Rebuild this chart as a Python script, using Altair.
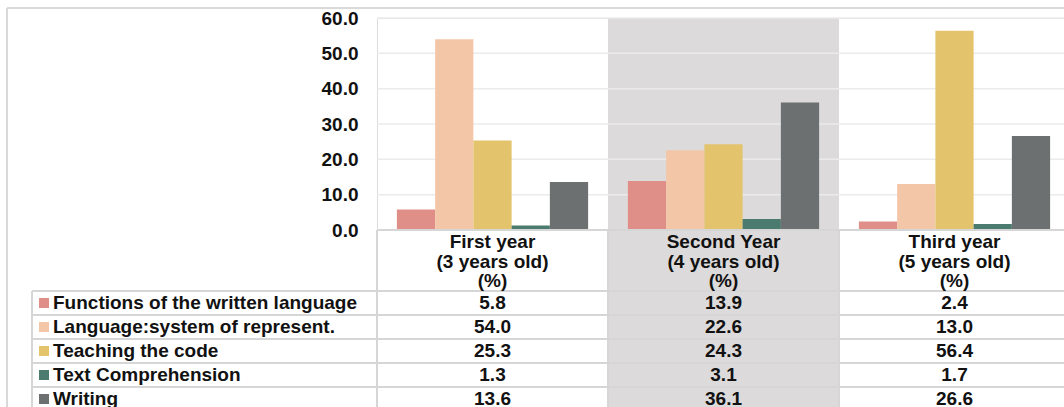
import altair as alt
import pandas as pd

# ---- data -------------------------------------------------------------
categories = ["First year", "Second Year", "Third year"]
ages = ["3 years old", "4 years old", "5 years old"]
series = [
    "Functions of the written language",
    "Language:system of represent.",
    "Teaching the code",
    "Text Comprehension",
    "Writing",
]
functions_vals = [5.8, 13.9, 2.4]
language_vals = [54.0, 22.6, 13.0]
teaching_vals = [25.3, 24.3, 56.4]
comprehension_vals = [1.3, 3.1, 1.7]
writing_vals = [13.6, 36.1, 26.6]
y_ticks = [0, 10, 20, 30, 40, 50, 60]
shaded = ["Second Year"]

colors = ["#e08f88", "#f3c6a7", "#e3c46d", "#4b7a6e", "#6d7070"]

# ---- tables -----------------------------------------------------------
series_values = [functions_vals, language_vals, teaching_vals,
                 comprehension_vals, writing_vals]
rows = []
for s, vals in zip(series, series_values):
    for c, v in zip(categories, vals):
        rows.append({"category": c, "series": s, "value": v, "label": f"{v:.1f}"})
df = pd.DataFrame(rows)

header_df = pd.DataFrame({
    "category": categories,
    "header": [f"{c}\n({a})\n(%)" for c, a in zip(categories, ages)],
})
series_df = pd.DataFrame({"series": series})
grid_df = pd.DataFrame({"g": [t for t in y_ticks if t > 0]})
shade_df = pd.DataFrame({"category": shaded})
cat_df = pd.DataFrame({"category": categories})

# ---- layout -----------------------------------------------------------
W, H = 687, 389          # plot area (bars + data table below)
CAT_W = 231              # width of one category column
BAR_H = 212              # height of the value axis part
ROW_TOP, ROW_H = 273, 24 # data table rows
LEG_LEFT = -345          # left edge of the row-label column

FONT = "Liberation Sans"
FS = 19
INK = "#111111"
LINE = "#d6d6d6"

xscale = alt.Scale(domain=categories, range=[0, CAT_W * 3],
                   paddingInner=0, paddingOuter=0)
yscale = alt.Scale(domain=[0, 60], range=[BAR_H, 0], nice=False, zero=True)
rowscale = alt.Scale(domain=series, range=[ROW_TOP, ROW_TOP + ROW_H * len(series)],
                     paddingInner=0, paddingOuter=0)
cscale = alt.Scale(domain=series, range=colors)

X = lambda **kw: alt.X("category:N", scale=xscale, axis=None, **kw)
ROW = lambda **kw: alt.Y("series:N", scale=rowscale, axis=None, **kw)

band = alt.Chart(shade_df).mark_rect(color="#dcdada").encode(x=X())

grid = alt.Chart(grid_df).mark_rule(color="#ebebeb", strokeWidth=1.5).encode(
    y=alt.Y("g:Q", scale=yscale, axis=None)
)

bars = alt.Chart(df).mark_bar().encode(
    x=X(),
    xOffset=alt.XOffset("series:N", sort=series,
                        scale=alt.Scale(domain=series, paddingInner=0, paddingOuter=0.52)),
    y=alt.Y("value:Q", scale=yscale,
            axis=alt.Axis(values=y_ticks, format=".1f", domain=False, ticks=False,
                          grid=False, labelPadding=19, labelFont=FONT,
                          labelFontSize=FS, labelFontWeight="bold",
                          labelColor=INK, title=None)),
    color=alt.Color("series:N", scale=cscale, legend=None),
)

# data table: borders
header_line = alt.Chart(pd.DataFrame({"z": [0]})).mark_rule(
    color=LINE, strokeWidth=2).encode(y=alt.Y("z:Q", scale=yscale, axis=None))

col_lines = alt.Chart(cat_df).mark_rule(color=LINE, strokeWidth=2).encode(
    x=X(bandPosition=0), y=alt.value(BAR_H), y2=alt.value(H + 10)
)

row_lines = alt.Chart(series_df).mark_rule(color=LINE, strokeWidth=2).encode(
    y=ROW(bandPosition=0), x=alt.value(LEG_LEFT), x2=alt.value(W)
)

legend_edge = alt.Chart(pd.DataFrame({"e": [0]})).mark_rule(
    color=LINE, strokeWidth=2).encode(
    x=alt.value(LEG_LEFT), y=alt.value(ROW_TOP), y2=alt.value(H + 10)
)

# outer chart frame
frame_top = alt.Chart(pd.DataFrame({"e": [0]})).mark_rule(
    color="#d9d9d9", strokeWidth=2).encode(
    y=alt.value(-10), x=alt.value(-370), x2=alt.value(W + 10)
)
frame_left = alt.Chart(pd.DataFrame({"e": [0]})).mark_rule(
    color="#d9d9d9", strokeWidth=2).encode(
    x=alt.value(-370), y=alt.value(-10), y2=alt.value(H + 10)
)

# data table: text
headers = alt.Chart(header_df).mark_text(
    font=FONT, fontSize=FS, fontWeight="bold", color=INK,
    lineBreak="\n", lineHeight=19.5, baseline="middle", align="center"
).encode(x=X(), y=alt.value(BAR_H + 12), text="header:N")

cells = alt.Chart(df).mark_text(
    font=FONT, fontSize=FS, fontWeight="bold", color=INK, baseline="middle"
).encode(x=X(), y=ROW(), text="label:N")

row_labels = alt.Chart(series_df).mark_text(
    font=FONT, fontSize=FS, fontWeight="bold", color=INK,
    align="left", baseline="middle"
).encode(x=alt.value(-324), y=ROW(), text="series:N")

swatches = alt.Chart(series_df).mark_square(size=100, opacity=1).encode(
    x=alt.value(-333), y=ROW(),
    color=alt.Color("series:N", scale=cscale, legend=None),
)

chart = alt.layer(
    band, grid, bars, header_line, col_lines, row_lines, legend_edge,
    frame_top, frame_left, headers, cells, row_labels, swatches,
).resolve_scale(y="independent").properties(
    width=W, height=H,
    padding={"left": 377, "top": 18, "right": 0, "bottom": 0},
    autosize=alt.AutoSizeParams(type="none"),
).configure_view(stroke=None).configure(background="white")

chart.save("out.html", embed_options={"renderer": "svg", "actions": False})
